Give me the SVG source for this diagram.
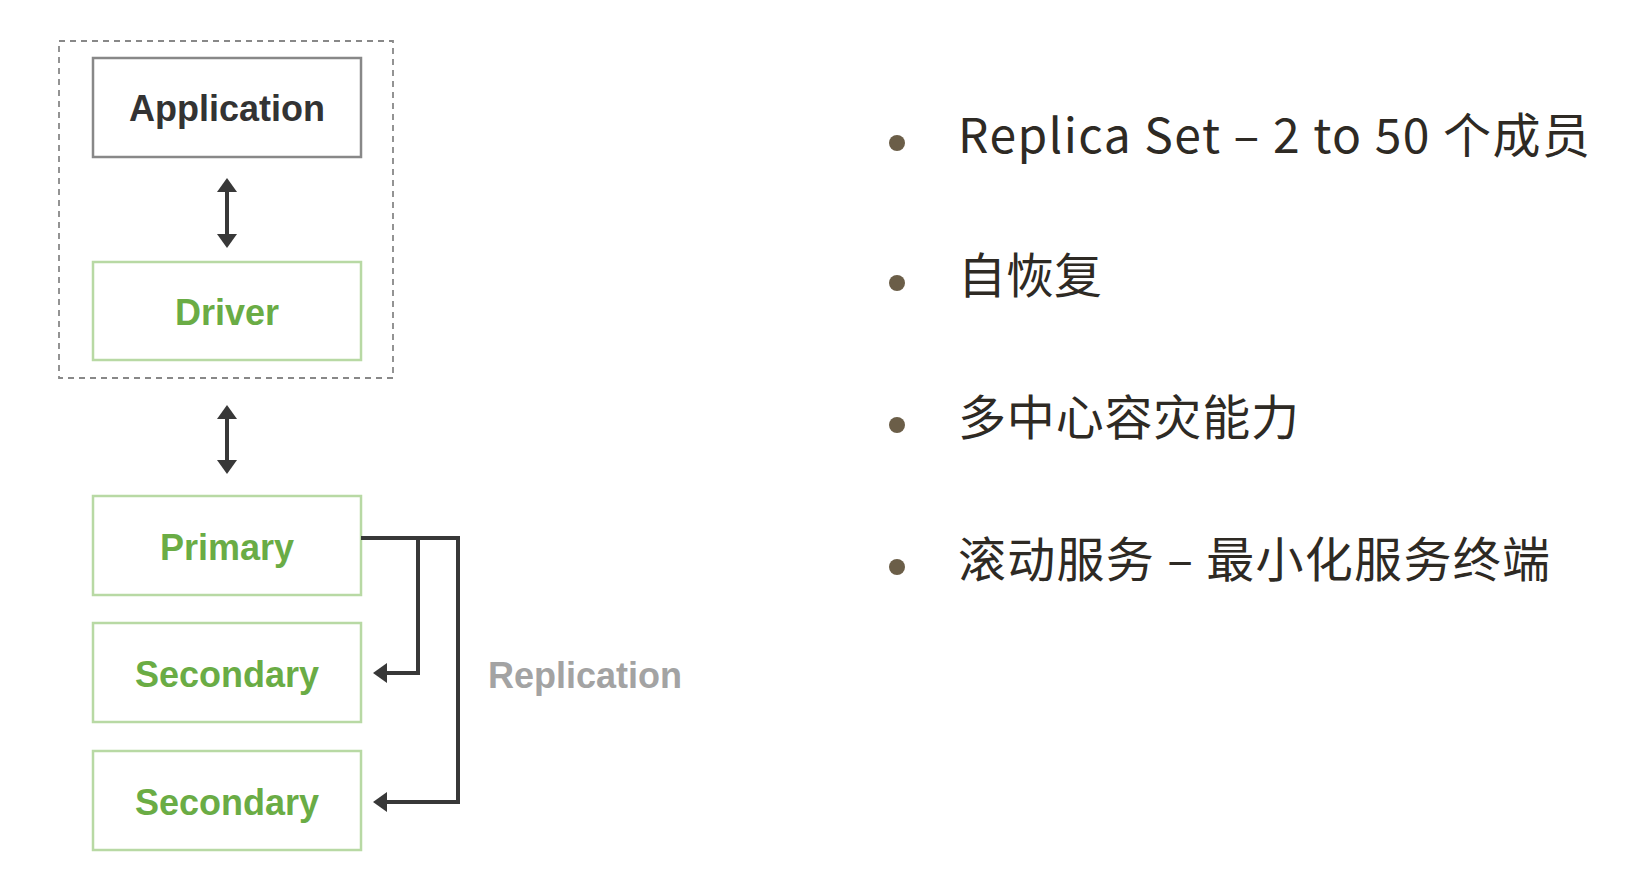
<svg xmlns="http://www.w3.org/2000/svg" width="1638" height="872" viewBox="0 0 1638 872">
<style>
.lbl{font-family:"Liberation Sans",Arial,sans-serif;font-weight:bold;font-size:36px;text-anchor:middle}
.green{fill:#6aac45}
.gbox{fill:#fff;stroke:#b8d9a4;stroke-width:2.5}
.abox{fill:#fff;stroke:#888;stroke-width:2.5}
.conn{fill:none;stroke:#383838;stroke-width:4;stroke-linejoin:miter}
.bul{font-family:"Noto Sans CJK SC","Noto Sans",sans-serif;font-size:48px;fill:#2e2a24}
.dot{fill:#6b5e48}
</style>
<defs>
<marker id="ah" viewBox="0 0 14 20" refX="4" refY="10" markerWidth="14" markerHeight="20" markerUnits="userSpaceOnUse" orient="auto-start-reverse">
<path d="M0,0 L14,10 L0,20 z" fill="#383838"/>
</marker>
</defs>
<rect id="client-boundary" x="59" y="41" width="334" height="337" fill="none" stroke="#888" stroke-width="1.8" stroke-dasharray="6 5"/>
<g id="application">
<rect class="abox" x="93" y="58" width="268" height="99"/>
<text class="lbl" x="227" y="121" fill="#333">Application</text>
</g>
<g id="driver">
<rect class="gbox" x="93" y="262" width="268" height="98"/>
<text class="lbl green" x="227" y="325">Driver</text>
</g>
<g id="primary">
<rect class="gbox" x="93" y="496" width="268" height="99"/>
<text class="lbl green" x="227" y="560">Primary</text>
</g>
<g id="secondary1">
<rect class="gbox" x="93" y="623" width="268" height="99"/>
<text class="lbl green" x="227" y="687">Secondary</text>
</g>
<g id="secondary2">
<rect class="gbox" x="93" y="751" width="268" height="99"/>
<text class="lbl green" x="227" y="815">Secondary</text>
</g>
<g id="connectors">
<line class="conn" x1="227" y1="188" x2="227" y2="238" marker-start="url(#ah)" marker-end="url(#ah)"/>
<line class="conn" x1="227" y1="415" x2="227" y2="464" marker-start="url(#ah)" marker-end="url(#ah)"/>
<path class="conn" d="M361,538 H458 V802 H383" marker-end="url(#ah)"/>
<path class="conn" d="M418,538 V673 H383" marker-end="url(#ah)"/>
<text x="488" y="688" font-family="'Liberation Sans',Arial,sans-serif" font-weight="bold" font-size="36" fill="#a3a3a3">Replication</text>
</g>
<g id="bullets">
<circle class="dot" cx="897" cy="143" r="8"/>
<text class="bul" x="958" y="153" textLength="632" lengthAdjust="spacing">Replica Set – 2 to 50 个成员</text>
<circle class="dot" cx="897" cy="283" r="8"/>
<text class="bul" x="958" y="293">自恢复</text>
<circle class="dot" cx="897" cy="425" r="8"/>
<text class="bul" x="958" y="435" textLength="341" lengthAdjust="spacing">多中心容灾能力</text>
<circle class="dot" cx="897" cy="567" r="8"/>
<text class="bul" x="958" y="577" textLength="592" lengthAdjust="spacing">滚动服务 – 最小化服务终端</text>
</g>
</svg>
